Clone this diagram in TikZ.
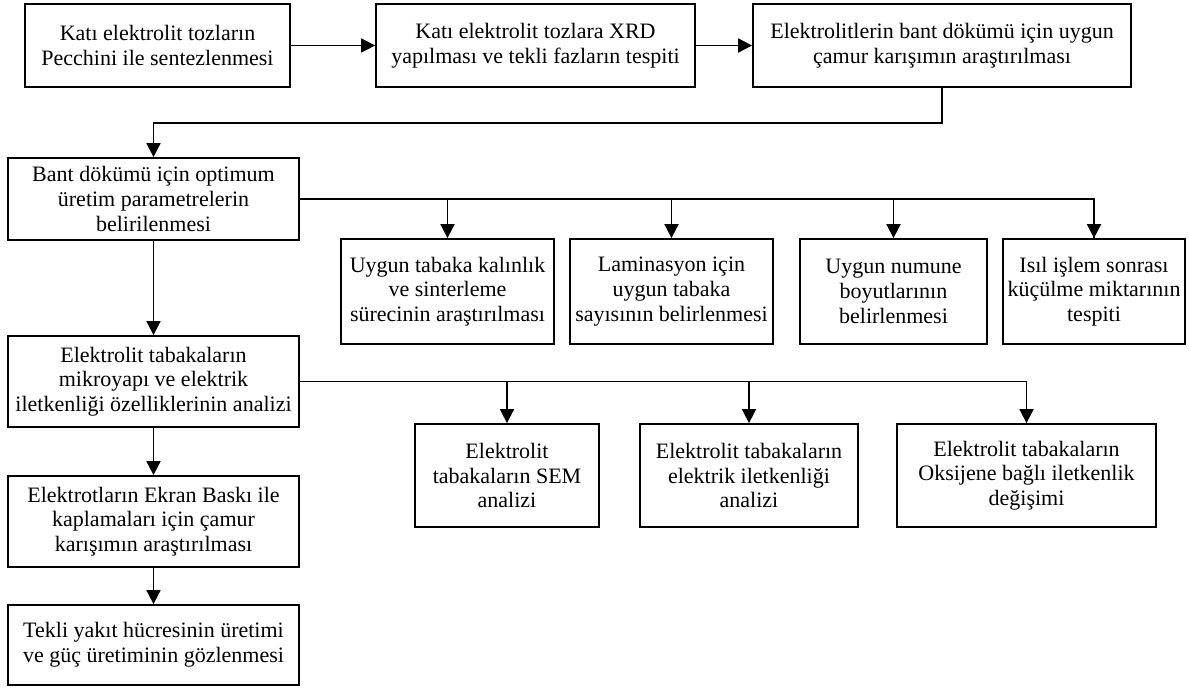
\documentclass[tikz,border=0pt]{standalone}
\usepackage{fontspec}
\setmainfont{Liberation Serif}
\usetikzlibrary{arrows.meta,positioning}

\begin{document}
\begin{tikzpicture}[x=1pt, y=-1pt]
		% Kalinliklar ve stiller
		\def\cizgi{1.8pt} % Cizgi kalinligi
		\tikzset{
			kutu/.style={draw, line width=\cizgi, align=center, inner sep=2pt,
				font=\fontsize{22}{24.7}\selectfont},
			ok/.style={line width=\cizgi, -{Triangle[length=14pt, width=14pt]}},
			hat/.style={line width=\cizgi}
		}
		
		% --- Sayfa sinirlari ---
		\useasboundingbox (0,0) rectangle (1189,688);
		
		% --- Ust satir ---
		\node[kutu, minimum width=265pt, minimum height=83pt] (sentez) at (157.5,45.5)
			{Katı elektrolit tozların\\Pecchini ile sentezlenmesi};
		\node[kutu, minimum width=319pt, minimum height=83pt] (xrd) at (535.5,45.5)
			{Katı elektrolit tozlara XRD\\yapılması ve tekli fazların tespiti};
		\node[kutu, minimum width=378pt, minimum height=83pt] (camur) at (942,45.5)
			{Elektrolitlerin bant dökümü için uygun\\çamur karışımın araştırılması};
		
		% --- Sol sutun ---
		\node[kutu, minimum width=291pt, minimum height=82pt] (bant) at (153.5,199)
			{Bant dökümü için optimum\\üretim parametrelerin\\belirilenmesi};
		\node[kutu, minimum width=291pt, minimum height=91pt] (analiz) at (153.5,381.5)
			{Elektrolit tabakaların\\mikroyapı ve elektrik\\iletkenliği özelliklerinin analizi};
		\node[kutu, minimum width=291pt, minimum height=91pt] (ekran) at (153.5,521.5)
			{Elektrotların Ekran Baskı ile\\kaplamaları için çamur\\karışımın araştırılması};
		\node[kutu, minimum width=291pt, minimum height=80pt] (hucre) at (153.5,645)
			{Tekli yakıt hücresinin üretimi\\ve güç üretiminin gözlenmesi};
		
		% --- Bant dokumu dallari ---
		\node[kutu, minimum width=213pt, minimum height=105pt] (kalinlik) at (447.5,291.5)
			{Uygun tabaka kalınlık\\ve sinterleme\\sürecinin araştırılması};
		\node[kutu, minimum width=203pt, minimum height=105pt] (laminasyon) at (671.5,291.5)
			{Laminasyon için\\uygun tabaka\\sayısının belirlenmesi};
		\node[kutu, minimum width=187pt, minimum height=105pt] (numune) at (893.5,291.5)
			{Uygun numune\\boyutlarının\\belirlenmesi};
		\node[kutu, minimum width=182pt, minimum height=105pt] (isil) at (1094,291.5)
			{Isıl işlem sonrası\\küçülme miktarının\\tespiti};
		
		% --- Analiz dallari ---
		\node[kutu, minimum width=184pt, minimum height=103pt] (sem) at (507,475.5)
			{Elektrolit\\tabakaların SEM\\analizi};
		\node[kutu, minimum width=218pt, minimum height=103pt] (iletkenlik) at (749,475.5)
			{Elektrolit tabakaların\\elektrik iletkenliği\\analizi};
		\node[kutu, minimum width=259pt, minimum height=103pt] (oksijen) at (1026.5,475.5)
			{Elektrolit tabakaların\\Oksijene bağlı iletkenlik\\değişimi};
		
		% --- Baglantilar ---
		\draw[ok] (sentez) -- (xrd);
		\draw[ok] (xrd) -- (camur);
		\draw[ok] (camur.south) -- ++(0,35) -| (bant.north);
		\draw[ok] (bant) -- (analiz);
		\draw[ok] (analiz) -- (ekran);
		\draw[ok] (ekran) -- (hucre);
		
		\draw[hat] (bant.east) -| (isil.north);
		\draw[ok] (bant.east -| isil.north) -- (isil.north);
		\draw[ok] (bant.east -| kalinlik.north) -- (kalinlik.north);
		\draw[ok] (bant.east -| laminasyon.north) -- (laminasyon.north);
		\draw[ok] (bant.east -| numune.north) -- (numune.north);
		
		\draw[hat] (analiz.east) -| (oksijen.north);
		\draw[ok] (analiz.east -| oksijen.north) -- (oksijen.north);
		\draw[ok] (analiz.east -| sem.north) -- (sem.north);
		\draw[ok] (analiz.east -| iletkenlik.north) -- (iletkenlik.north);
		
	\end{tikzpicture}
\end{document}
